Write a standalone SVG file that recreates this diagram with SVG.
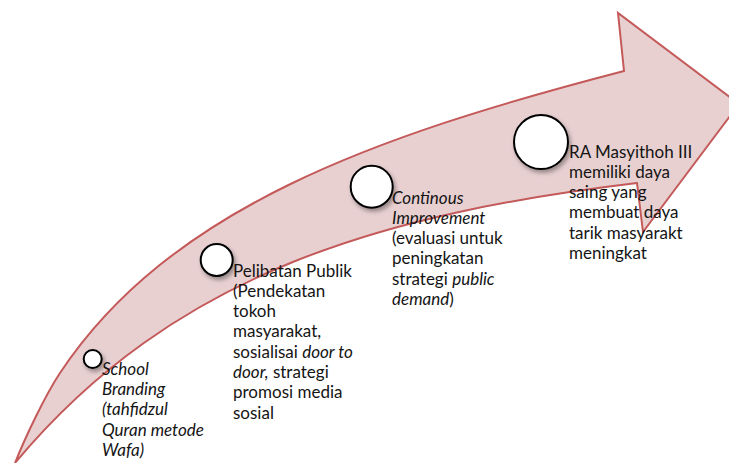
<svg xmlns="http://www.w3.org/2000/svg" width="729" height="463" viewBox="0 0 729 463">
<defs>
<style>
.arrow{fill:#e8d0d1;stroke:#c4595a;stroke-width:2;stroke-linejoin:miter}
.dot{fill:#ffffff;stroke:#000000;stroke-width:2;filter:url(#sh)}
.t{font-family:Lato,"Open Sans","Liberation Sans",sans-serif;font-size:17px;fill:#141414}
.i{font-style:italic}
</style>
<filter id="sh" x="-50%" y="-50%" width="200%" height="200%">
<feDropShadow dx="2" dy="3" stdDeviation="2" flood-color="#000" flood-opacity="0.35"/>
</filter>
</defs>
<g id="arrow">
<path class="arrow" d="M15,463 C25,438 45,395.5 60,373 C170,208 374,136 624,71 L618,13 L739,104 L643,232 L637,183 C387,213 175,271 15,463 Z"/>
</g>
<g id="connectors"></g>
<g id="node1">
<circle class="dot" cx="92.7" cy="359" r="9"/>
<text class="t i" x="102" y="375">School</text>
<text class="t i" x="102" y="395.2">Branding</text>
<text class="t i" x="102" y="415.4">(tahfidzul</text>
<text class="t i" x="102" y="435.6">Quran metode</text>
<text class="t i" x="102" y="455.8">Wafa)</text>
</g>
<g id="node2">
<circle class="dot" cx="216.7" cy="260" r="16"/>
<text class="t" x="233" y="276.5">Pelibatan Publik</text>
<text class="t" x="233" y="296.8">(Pendekatan</text>
<text class="t" x="233" y="317.1">tokoh</text>
<text class="t" x="233" y="337.4">masyarakat,</text>
<text class="t" x="233" y="357.7">sosialisai <tspan class="i">door to</tspan></text>
<text class="t" x="233" y="378"><tspan class="i">door,</tspan> strategi</text>
<text class="t" x="233" y="398.3">promosi media</text>
<text class="t" x="233" y="418.6">sosial</text>
</g>
<g id="node3">
<circle class="dot" cx="371.7" cy="186.7" r="21"/>
<text class="t i" x="392" y="203.5">Continous</text>
<text class="t i" x="392" y="223.8">Improvement</text>
<text class="t" x="392" y="244.1">(evaluasi untuk</text>
<text class="t" x="392" y="264.4">peningkatan</text>
<text class="t" x="392" y="284.7">strategi <tspan class="i">public</tspan></text>
<text class="t" x="392" y="305"><tspan class="i">demand</tspan>)</text>
</g>
<g id="node4">
<circle class="dot" cx="541" cy="142" r="27"/>
<text class="t" x="569" y="157.5">RA Masyithoh III</text>
<text class="t" x="569" y="177.8">memiliki daya</text>
<text class="t" x="569" y="198.1">saing yang</text>
<text class="t" x="569" y="218.4">membuat daya</text>
<text class="t" x="569" y="238.7">tarik masyarakt</text>
<text class="t" x="569" y="259">meningkat</text>
</g>
</svg>
